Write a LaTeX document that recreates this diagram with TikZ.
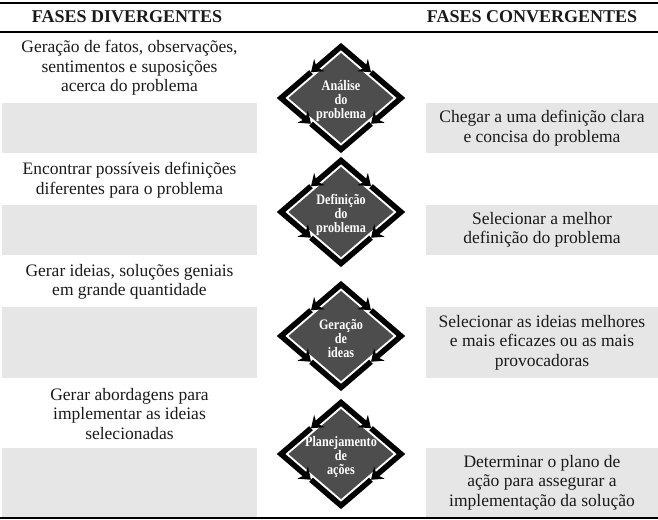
\documentclass[tikz,border=0pt]{standalone}
\usepackage{fontspec}
\setmainfont{Liberation Serif}
\newfontfamily\rotfont[FakeStretch=0.84]{Liberation Serif}
\usetikzlibrary{arrows.meta, positioning, shapes.geometric, calc}
\definecolor{caixaGray}{HTML}{E6E6E6}
\definecolor{faseDark}{HTML}{4D4D4D}
\definecolor{textoEsc}{HTML}{1A1A1A}
\tikzset{
  regra/.style={black, line width=1.4pt},
  cabec/.style={font=\fontsize{18}{20}\selectfont\bfseries, text=textoEsc, inner sep=0pt},
  textoDiv/.style={align=center, font=\fontsize{17.5}{19.5}\selectfont, text=textoEsc, inner sep=0pt},
  caixa/.style={rectangle, fill=caixaGray, draw=none, align=center,
                font=\fontsize{17.5}{19.5}\selectfont, text=textoEsc, inner sep=0pt},
  fase/.style={diamond, minimum width=120pt, minimum height=103pt, inner sep=0pt, outer sep=0pt},
  faseInt/.style={diamond, fill=faseDark, minimum width=105pt, minimum height=90pt,
                  inner sep=0pt, outer sep=0pt},
  faseRot/.style={align=center, text=white, inner sep=0pt,
                  font=\rotfont\bfseries\fontsize{14.5}{14}\selectfont},
  contorno/.style={black, line width=5.5pt, line join=miter},
  seta/.style={contorno, -{Stealth[length=11pt, width=16pt]}},
  setaDupla/.style={contorno, {Stealth[length=11pt, width=16pt]}-{Stealth[length=11pt, width=16pt]}},
}
\begin{document}
\begin{tikzpicture}[x=1pt, y=-1pt]
    \useasboundingbox (0,0) rectangle (658,519);
    % regras da tabela
    \draw[regra] (0,3) -- (658,3);
    \draw[regra] (0,32) -- (658,32);
    \draw[regra] (0,518) -- (658,518);
    % cabecalhos
    \node[cabec] (hdiv) at (127,17) {FASES DIVERGENTES};
    \node[cabec] (hconv) at (532,17) {FASES CONVERGENTES};
    % fases divergentes (texto + caixa cinza vazia)
    \foreach \i/\y/\t in {1/68/{Geração de fatos, observações,\\sentimentos e suposições\\acerca do problema},
                          2/180/{Encontrar possíveis definições\\diferentes para o problema},
                          3/282/{Gerar ideias, soluções geniais\\em grande quantidade},
                          4/414/{Gerar abordagens para\\implementar as ideias\\selecionadas}} {
      \node[textoDiv] (div\i) at (129.5,\y) {\t};
    }
    \foreach \i/\y/\h in {1/128/50, 2/230/50, 3/342.5/71, 4/482.5/69} {
      \node[caixa, minimum width=255pt, minimum height=\h] (dbox\i) at (129.5,\y) {};
    }
    % fases convergentes
    \foreach \i/\y/\h/\t in {1/128/50/{Chegar a uma definição clara\\e concisa do problema},
                             2/230/50/{Selecionar a melhor\\definição do problema},
                             3/342.5/71/{Selecionar as ideias melhores\\e mais eficazes ou as mais\\provocadoras},
                             4/482.5/69/{Determinar o plano de\\ação para assegurar a\\implementação da solução}} {
      \node[caixa, minimum width=232pt, minimum height=\h] (conv\i) at (542,\y) {\t};
    }
    % losangos das fases
    \foreach \i/\y/\t in {1/98/{Análise\\do\\problema}, 2/212/{Definição\\do\\problema},
                          3/336/{Geração\\de\\ideas}, 4/454/{Planejamento\\de\\ações}} {
      \node[fase] (f\i) at (341,\y) {};
      \node[faseInt] (g\i) at (f\i) {};
      \node[faseRot] (t\i) at ([yshift=-3pt]f\i) {\t};
      \coordinate (ma\i) at ($(f\i.north)!.5!(f\i.west)$);
      \coordinate (mb\i) at ($(f\i.north)!.5!(f\i.east)$);
      \coordinate (mc\i) at ($(f\i.west)!.5!(f\i.south)$);
      \coordinate (md\i) at ($(f\i.east)!.5!(f\i.south)$);
      \draw[setaDupla] (ma\i) -- (f\i.north) -- (mb\i);
      \draw[seta] (ma\i) -- (f\i.west) -- (mc\i);
      \draw[seta] (mb\i) -- (f\i.east) -- (md\i);
      \draw[contorno] (mc\i) -- (f\i.south) -- (md\i);
    }
\end{tikzpicture}
\end{document}
